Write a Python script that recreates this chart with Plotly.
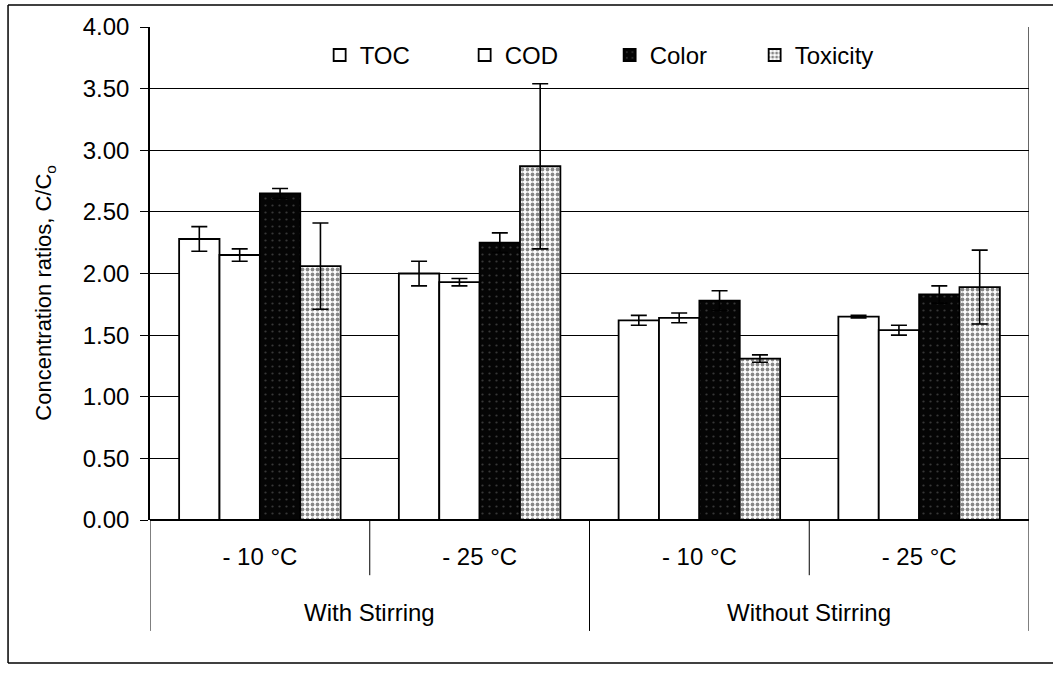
import plotly.graph_objects as go

# Freeze-concentration ratios (C/Co) per condition
temperatures = ["- 10 °C", "- 25 °C", "- 10 °C", "- 25 °C"]
stirring_groups = ["With Stirring", "Without Stirring"]

toc = [2.28, 2.00, 1.62, 1.65]
toc_err = [0.10, 0.10, 0.04, 0.01]
cod = [2.15, 1.93, 1.64, 1.54]
cod_err = [0.05, 0.03, 0.04, 0.04]
color = [2.65, 2.25, 1.78, 1.83]
color_err = [0.04, 0.08, 0.08, 0.07]
toxicity = [2.06, 2.87, 1.31, 1.89]
toxicity_err = [0.35, 0.67, 0.03, 0.30]

y_ticks = [0.0, 0.5, 1.0, 1.5, 2.0, 2.5, 3.0, 3.5, 4.0]

FONT = "Liberation Sans, Arial, sans-serif"
x_pos = list(range(len(temperatures)))


def err(values):
    return dict(type="data", array=values, visible=True, color="black",
                thickness=1.6, width=8)


fig = go.Figure()
fig.add_trace(go.Bar(
    name="TOC", x=x_pos, y=toc, error_y=err(toc_err),
    marker=dict(color="white", line=dict(color="black", width=1.8)),
))
fig.add_trace(go.Bar(
    name="COD", x=x_pos, y=cod, error_y=err(cod_err),
    marker=dict(color="white", line=dict(color="black", width=1.8)),
))
fig.add_trace(go.Bar(
    name="Color", x=x_pos, y=color, error_y=err(color_err),
    marker=dict(color="black", line=dict(color="black", width=1.8),
                pattern=dict(shape=".", fgcolor="#6a6a6a", bgcolor="#050505",
                             size=7, solidity=0.08)),
))
fig.add_trace(go.Bar(
    name="Toxicity", x=x_pos, y=toxicity, error_y=err(toxicity_err),
    marker=dict(color="white", line=dict(color="black", width=1.8),
                pattern=dict(shape=".", fgcolor="#111111", bgcolor="white",
                             size=5, solidity=0.45)),
))

# Category dividers below the axis (short within a group, long between groups)
shapes = []
n = len(temperatures)
per_group = n // len(stirring_groups)
for k in range(n + 1):
    xb = k - 0.5
    long_line = (k % per_group == 0)
    shapes.append(dict(type="line", xref="x", yref="paper", x0=xb, x1=xb,
                       y0=0, y1=-0.225 if long_line else -0.112,
                       line=dict(color="black", width=1)))
# Right edge of the plotting area
shapes.append(dict(type="line", xref="x", yref="paper", x0=n - 0.5, x1=n - 0.5,
                   y0=0, y1=1, line=dict(color="black", width=1.2)))
# Outer frame around the whole chart
shapes.append(dict(type="line", xref="paper", yref="paper", x0=-0.1615, x1=1.04,
                   y0=1.0446, y1=1.0446, line=dict(color="black", width=1.5)))
shapes.append(dict(type="line", xref="paper", yref="paper", x0=-0.1615, x1=1.04,
                   y0=-0.290, y1=-0.290, line=dict(color="black", width=1.5)))
shapes.append(dict(type="line", xref="paper", yref="paper", x0=-0.1615, x1=-0.1615,
                   y0=-0.290, y1=1.0446, line=dict(color="black", width=1.5)))

annotations = []
for g, name in enumerate(stirring_groups):
    centre = g * per_group + (per_group - 1) / 2
    annotations.append(dict(x=centre, y=-0.187, xref="x", yref="paper",
                            text=name, showarrow=False, yanchor="middle",
                            font=dict(family=FONT, size=24, color="black")))
# Value-axis title
annotations.append(dict(x=-0.119, y=0.462, xref="paper", yref="paper",
                        text="Concentration ratios, C/C<sub>o</sub>",
                        textangle=-90, showarrow=False,
                        xanchor="center", yanchor="middle",
                        font=dict(family=FONT, size=22, color="black")))

fig.update_layout(
    width=1053, height=673,
    margin=dict(l=150, r=24, t=27, b=153),
    paper_bgcolor="white", plot_bgcolor="white",
    barmode="group", bargap=0.265, bargroupgap=0,
    font=dict(family=FONT, size=24, color="black"),
    showlegend=True,
    legend=dict(orientation="h", x=0.193, y=0.988, xanchor="left", yanchor="top",
                bgcolor="rgba(0,0,0,0)", entrywidth=100, entrywidthmode="pixels",
                itemwidth=30, font=dict(family=FONT, size=24, color="black"),
                tracegroupgap=0),
    shapes=shapes,
    annotations=annotations,
    xaxis=dict(
        range=[-0.5, n - 0.5], tickmode="array", tickvals=x_pos,
        ticktext=temperatures, ticks="", showgrid=False, zeroline=False,
        showline=False, ticklabelstandoff=20, automargin=False,
        tickfont=dict(family=FONT, size=24, color="black"),
    ),
    yaxis=dict(
        range=[0, 4.0], tickmode="array", tickvals=y_ticks, tickformat=".2f",
        ticks="outside", ticklen=8, tickcolor="black", tickwidth=1.2,
        ticklabelstandoff=6, automargin=False,
        showgrid=True, gridcolor="black", gridwidth=1.2,
        zeroline=True, zerolinecolor="black", zerolinewidth=2,
        showline=True, linecolor="black", linewidth=1.5,
        tickfont=dict(family=FONT, size=24, color="black"),
    ),
)

fig.write_html("out.html")
